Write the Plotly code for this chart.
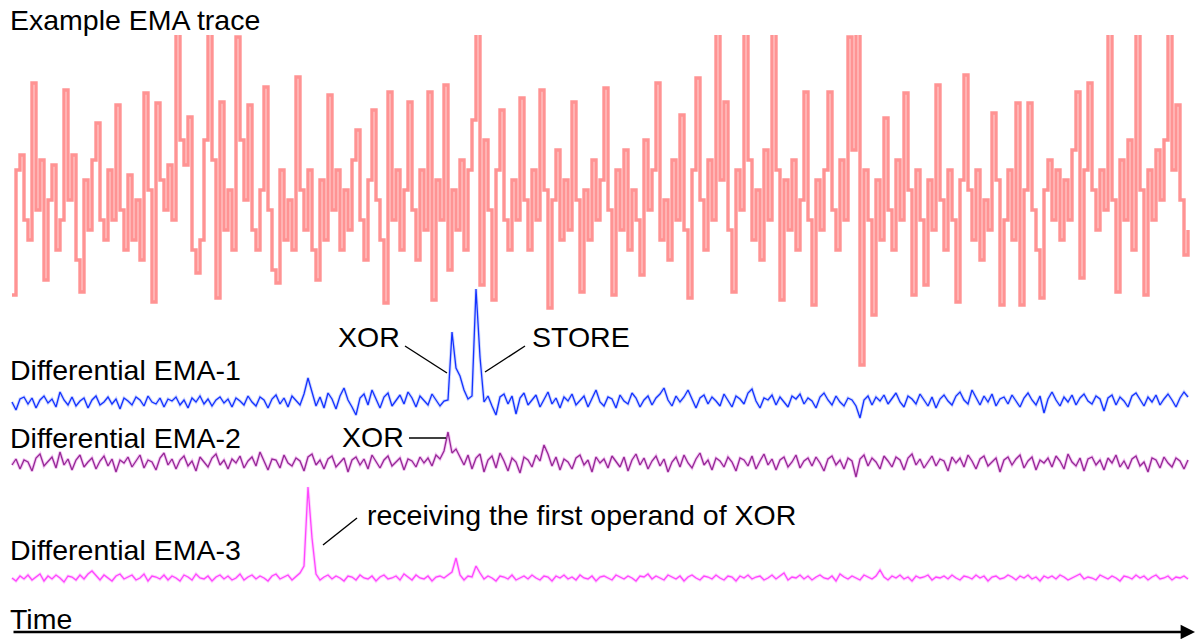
import numpy as np
import plotly.graph_objects as go

# ---------------- data (sample index on a common time base) ----------------
ema_trace = [
    75, 200, 215, 150, 130, 287, 160, 210, 90, 170,
    205, 120, 150, 280, 170, 215, 110, 78, 190, 140,
    210, 247, 150, 130, 200, 150, 265, 160, 120, 195,
    130, 170, 110, 277, 180, 68, 267, 190, 160, 205,
    150, 340, 230, 205, 253, 120, 97, 130, 230, 340,
    210, 72, 268, 140, 180, 120, 333, 230, 170, 265,
    140, 120, 180, 283, 160, 100, 87, 200, 130, 170,
    120, 293, 180, 140, 200, 120, 90, 190, 130, 275,
    160, 200, 120, 180, 140, 210, 240, 150, 110, 190,
    260, 170, 130, 67, 278, 150, 200, 120, 180, 268,
    160, 110, 200, 140, 278, 70, 190, 150, 285, 100,
    180, 140, 210, 120, 200, 250, 340, 85, 230, 160,
    70, 200, 260, 150, 120, 190, 150, 272, 170, 120,
    200, 150, 280, 180, 62, 170, 220, 130, 190, 140,
    268, 170, 78, 180, 130, 210, 150, 190, 282, 160,
    75, 200, 140, 220, 120, 180, 150, 95, 230, 160,
    200, 287, 130, 170, 110, 210, 150, 255, 140, 72,
    200, 292, 170, 120, 210, 150, 340, 190, 268, 140,
    78, 200, 160, 340, 210, 130, 180, 110, 220, 150,
    340, 200, 70, 190, 140, 210, 120, 170, 278, 150,
    65, 190, 140, 200, 278, 160, 120, 210, 150, 333,
    220, 340, 5, 200, 150, 55, 190, 130, 252, 160,
    120, 210, 150, 277, 180, 75, 200, 150, 85, 190,
    140, 285, 170, 120, 200, 150, 68, 190, 295, 180,
    130, 200, 110, 170, 140, 257, 190, 65, 150, 200,
    130, 267, 65, 180, 267, 160, 120, 72, 180, 210,
    150, 200, 130, 190, 150, 220, 278, 92, 200, 287,
    180, 140, 200, 160, 340, 170, 78, 210, 150, 230,
    120, 340, 180, 75, 200, 150, 220, 170, 230, 340,
    200, 265, 170, 115, 140,
]

diff_ema_1 = [
    0, -8, 3, 5, -2, 4, -6, 2, 6, -1,
    3, -5, 10, 2, -3, 5, -4, 1, 4, -6,
    2, 6, -3, 0, 5, -2, 3, -7, 4, 1,
    -3, 5, 2, -4, 6, 0, -2, 4, -5, 3,
    1, 5, -3, 2, -6, 4, 0, 6, -2, 3,
    -4, 2, 5, -1, 3, -5, 4, 1, -3, 6,
    0, -4, 5, 2, -6, 3, 7, -2, 4, -5,
    6, 2, -3, 8, 24, 10, -4, 5, -6, 9,
    3, -7, 6, 14, 2, -5, -13, 4, 8, -3,
    12, 3, -6, 5, 9, -4, 2, 7, -2, 10,
    4, -5, 6, 1, -3, 8, 2, -4, 1, 2,
    70, 34, 26, 12, 3, 6, 113, 45, 0, 6,
    -4, -13, 5, 8, -2, 6, -12, 4, 9, -3,
    2, 7, -5, 3, 10, -2, 4, -6, 5, 1,
    8, -3, 2, 6, -5, 4, 12, 0, -4, 5,
    3, -6, 7, 1, -2, 9, 4, -5, 2, 6,
    -3, 4, 8, 14, 2, -4, 6, 0, 5, 12,
    3, -6, 4, 7, -2, 5, 1, -4, 8, 2,
    -5, 6, 3, -2, 9, 13, 1, -6, 4, 2,
    7, -3, 5, 0, -5, 6, 3, 8, -2, 4,
    1, -6, 5, 9, 2, -3, 6, 0, -4, 4,
    2, -4, -16, 2, 6, -3, 5, 1, 7, -2,
    4, 9, 0, -5, 6, 3, -2, 8, 2, -4,
    5, -6, 3, 7, 1, -3, 6, 10, 2, -2,
    12, 4, -3, 6, 0, 8, -4, 3, 5, -2,
    7, 1, -5, 4, 9, 2, -3, 6, -11, 3,
    10, 2, -4, 5, 0, 7, -3, 4, 8, 1,
    -2, 6, 3, -9, 4, 7, -3, 5, 1, -5,
    6, 9, 2, -4, 5, 0, 7, -3, 3, 8,
    2, -5, 4, 10, 5,
]

diff_ema_2 = [
    -2, 4, -6, 3, 1, -8, 5, 9, -3, 2,
    6, -5, 11, -2, 4, -7, 3, 8, -4, 1,
    5, -6, 2, 7, -3, 4, -9, 3, 0, 6,
    -4, 2, 8, -5, 3, 1, -7, 5, 10, -2,
    4, -6, 3, 7, -3, 2, -8, 6, 1, -4,
    5, 9, -2, 3, -6, 4, 0, 7, -5, 2,
    6, -3, 11, 1, -7, 4, 3, -5, 8, 0,
    -3, 5, 2, -8, 6, 9, -2, 3, -6, 4,
    7, -4, 1, 5, -9, 3, 6, -2, 4, -6,
    8, 2, -5, 3, 7, -3, 1, 5, -7, 4,
    2, -4, 6, 0, 5, -3, 8, 4, 12, 31,
    10, 14, 6, -2, 8, -6, 5, 9, -9, 3,
    7, -5, 10, 2, -8, 5, 1, -10, 6, 3,
    -4, 8, 2, 18, 9, -3, 6, -7, 4, 1,
    -6, 5, 8, -2, 3, -9, 6, 0, 4, -5,
    7, 2, -4, 6, -8, 3, 9, -2, 5, -6,
    2, 7, -3, 4, -9, 1, 6, -4, 8, 0,
    -5, 4, 10, -2, 3, -7, 5, 2, -4, 6,
    1, -8, 5, 3, -3, 7, -6, 2, 9, -2,
    4, -7, 3, 6, -4, 1, 8, -5, 2, 5,
    -3, 6, 0, -8, 4, 7, -2, 3, -6, 5,
    2, -14, 4, 8, -3, 5, 1, -6, 7, 2,
    -4, 6, 3, -7, 5, 9, -2, 4, -5, 1,
    7, -3, 4, 2, -8, 6, 0, 5, -4, 8,
    2, -6, 4, 7, -3, 1, 5, -9, 3, 6,
    -2, 4, 8, -5, 2, 6, -7, 3, 0, 5,
    -4, 7, 2, -6, 9, 1, -3, 5, -8, 4,
    6, -2, 3, -7, 5, 0, 8, -4, 2, -6,
    4, 7, -3, 1, -9, 5, 3, -5, 6, 0,
    -4, 5, 2, -6, 3,
]

diff_ema_3 = [
    0, -3, 2, -1, 3, -2, 1, 4, -3, 2,
    -1, 3, 0, -4, 2, 1, -2, 3, -1, 4,
    7, 2, -2, 3, 0, -3, 2, 4, -1, 1,
    3, -2, 0, 4, -3, 2, 1, -1, 3, -2,
    2, 0, -3, 3, 1, -2, 4, 0, -1, 2,
    -3, 1, 3, -1, 2, -2, 0, 4, -2, 1,
    3, -1, 2, 0, -3, 2, 4, -1, 1, 3,
    -2, 2, 5, 12, 91, 40, 4, -2, 1, 3,
    -1, 2, 0, -3, 2, 1, -2, 3, 0, -1,
    2, -3, 1, 3, -1, 0, 2, -2, 4, 1,
    -2, 3, 0, -1, 2, -3, 1, 2, 0, 3,
    6, 20, 3, -2, 2, 1, 12, 5, -1, 2,
    0, -3, 2, 1, -1, 3, -2, 0, 2, -1,
    3, 0, -2, 2, 1, -3, 2, 0, 3, -1,
    1, -2, 3, 0, -1, 2, -3, 1, 2, 0,
    -2, 3, 1, -1, 2, 0, -3, 2, 1, 4,
    -1, 2, 0, -2, 3, 1, -1, 2, -3, 1,
    3, 0, -2, 2, 1, -1, 3, 0, -2, 2,
    1, -3, 2, 0, 3, -1, 1, 2, -2, 0,
    3, -1, 2, 5, -2, 1, 0, 3, -1, 2,
    -2, 1, 3, 0, -1, 2, -3, 4, 1, -1,
    2, 0, -2, 3, 1, -1, 2, 8, 1, -2,
    2, 0, 3, -1, 1, -3, 2, 0, 1, 3,
    -2, 1, 0, 2, -1, 3, 0, -2, 2, 1,
    -1, 3, 0, 2, -3, 1, 2, -1, 0, 3,
    1, -2, 2, 0, 3, -1, 1, -3, 2, 0,
    2, -1, 3, 1, -2, 0, 2, 4, -1, 1,
    0, -2, 3, 1, -1, 2, 0, -3, 2, 1,
    -1, 3, 0, 2, -2, 1, 3, -1, 0, 2,
    -2, 1, 0, 2, -1,
]

labels = ["Example EMA trace", "Differential EMA-1", "Differential EMA-2", "Differential EMA-3"]
time_step = 4
t = np.arange(len(ema_trace)) * time_step

# ---------------- figure ----------------
W, H = 1196, 639


def px(x):
    return x / W


def py(y):
    return 1 - y / H


fig = go.Figure()

FONT = "Liberation Sans, Arial, sans-serif"

# red trace (step-like vertical strokes)
fig.add_trace(go.Scatter(x=t, y=ema_trace, mode="lines", xaxis="x", yaxis="y",
                         line=dict(color="rgba(255,40,40,0.5)", width=3.4, shape="hv"),
                         hoverinfo="skip", showlegend=False))

# differential traces (soft halo + core)
specs = [
    (diff_ema_1, "y2", "rgba(150,170,255,0.45)", "rgb(20,50,255)"),
    (diff_ema_2, "y3", "rgba(230,130,230,0.45)", "rgb(150,40,150)"),
    (diff_ema_3, "y4", "rgba(255,160,255,0.45)", "rgb(255,70,255)"),
]
for vals, ax, halo, core in specs:
    fig.add_trace(go.Scatter(x=t, y=vals, mode="lines", xaxis="x", yaxis=ax,
                             line=dict(color=halo, width=3.2), hoverinfo="skip", showlegend=False))
    fig.add_trace(go.Scatter(x=t, y=vals, mode="lines", xaxis="x", yaxis=ax,
                             line=dict(color=core, width=1.3), hoverinfo="skip", showlegend=False))

hidden = dict(visible=False, showgrid=False, zeroline=False, fixedrange=True)
fig.update_layout(
    width=W, height=H,
    margin=dict(l=0, r=0, t=0, b=0),
    paper_bgcolor="white", plot_bgcolor="rgba(0,0,0,0)",
    xaxis=dict(domain=[0, 1], range=[-12, 1184], **hidden),
    yaxis=dict(domain=[py(370), py(35)], range=[0, 335], anchor="x", **hidden),
    yaxis2=dict(domain=[py(430), py(280)], range=[-28, 122], anchor="x", **hidden),
    yaxis3=dict(domain=[py(490), py(420)], range=[-27, 43], anchor="x", **hidden),
    yaxis4=dict(domain=[py(600), py(480)], range=[-22, 98], anchor="x", **hidden),
    showlegend=False,
)

TS = 28.5
texts = [
    (labels[0], 8, 20),
    (labels[1], 8, 370),
    (labels[2], 8, 438),
    (labels[3], 8, 550),
    ("XOR", 336, 337),
    ("STORE", 530, 337),
    ("XOR", 340, 437),
    ("receiving the first operand of XOR", 365, 515),
    ("Time", 8, 619),
]
for txt, x, y in texts:
    fig.add_annotation(text=txt, x=px(x), y=py(y), xref="paper", yref="paper",
                       xanchor="left", yanchor="middle", showarrow=False,
                       font=dict(family=FONT, size=TS, color="black"))

leaders = [
    (405, 346, 447, 373),
    (525, 346, 485, 372),
    (409, 438, 446, 438),
    (323, 545, 357, 518),
]
for x0, y0, x1, y1 in leaders:
    fig.add_shape(type="line", xref="paper", yref="paper",
                  x0=px(x0), y0=py(y0), x1=px(x1), y1=py(y1),
                  line=dict(color="black", width=1.4))

# time arrow
fig.add_annotation(x=px(1195), y=py(632), xref="paper", yref="paper",
                   ax=-1183, ay=0, axref="pixel", ayref="pixel",
                   showarrow=True, arrowhead=2, arrowsize=1.2, arrowwidth=2.4,
                   arrowcolor="black", text="")

fig.write_html("out.html", config={"displayModeBar": False},
               post_script="document.body.style.margin='0px';")
